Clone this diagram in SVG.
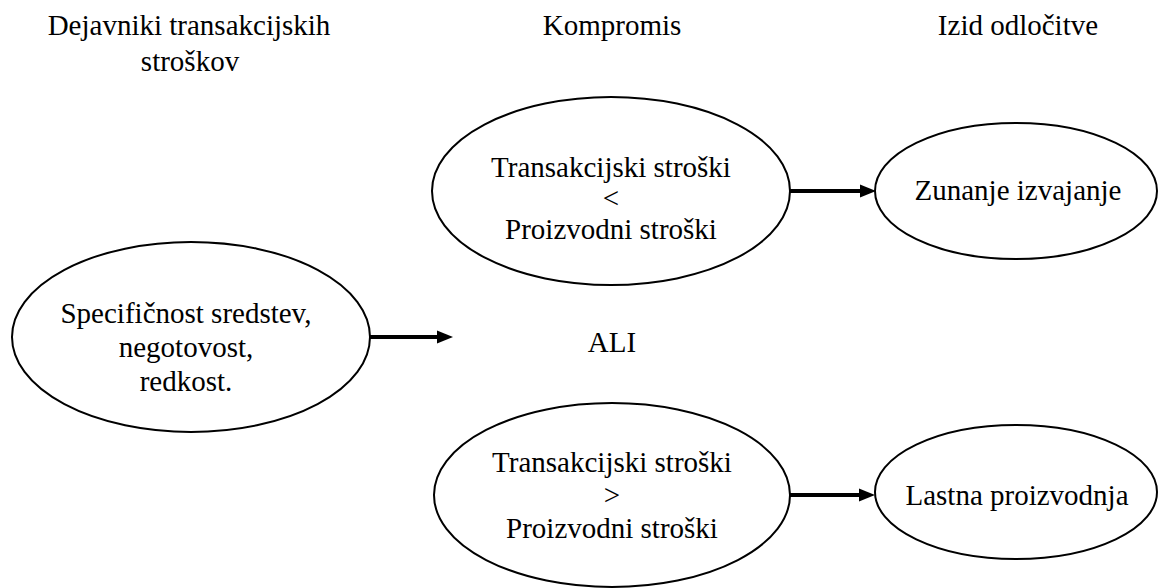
<svg xmlns="http://www.w3.org/2000/svg" width="1158" height="588" viewBox="0 0 1158 588">
  <defs>
    <marker id="arrow" markerUnits="userSpaceOnUse" markerWidth="16" markerHeight="14" refX="4" refY="7" orient="auto">
      <path d="M0,0.5 L16,7 L0,13.5 z" fill="#000"/>
    </marker>
  </defs>
  <rect width="1158" height="588" fill="#fff"/>

  <!-- connectors -->
  <g id="connectors" stroke="#000" stroke-width="4" fill="none" marker-end="url(#arrow)">
    <line x1="370" y1="337" x2="441" y2="337"/>
    <line x1="790" y1="191" x2="864" y2="191"/>
    <line x1="790" y1="495" x2="863" y2="495"/>
  </g>

  <!-- all labels share one serif face; ellipses share one outline -->
  <g font-family="Liberation Serif" font-size="29" text-anchor="middle" fill="#000">
    <g id="headings">
      <text x="189" y="35">Dejavniki transakcijskih</text>
      <text x="190" y="71">stroškov</text>
      <text x="612" y="35">Kompromis</text>
      <text x="1018" y="35">Izid odločitve</text>
    </g>

    <g id="factors">
      <ellipse cx="191" cy="337" rx="179" ry="95" fill="#fff" stroke="#000" stroke-width="2"/>
      <text x="186" y="323">Specifičnost sredstev,</text>
      <text x="186" y="357">negotovost,</text>
      <text x="186" y="391">redkost.</text>
    </g>

    <g id="tradeoff-less">
      <ellipse cx="611" cy="191" rx="179" ry="94" fill="#fff" stroke="#000" stroke-width="2"/>
      <text x="611" y="177">Transakcijski stroški</text>
      <text x="611" y="208">&lt;</text>
      <text x="611" y="239">Proizvodni stroški</text>
    </g>

    <g id="or-label">
      <text x="612" y="352">ALI</text>
    </g>

    <g id="tradeoff-greater">
      <ellipse cx="612" cy="495" rx="178" ry="92" fill="#fff" stroke="#000" stroke-width="2"/>
      <text x="612" y="472">Transakcijski stroški</text>
      <text x="612" y="505">&gt;</text>
      <text x="612" y="538">Proizvodni stroški</text>
    </g>

    <g id="outsourcing">
      <ellipse cx="1016" cy="191" rx="141" ry="68" fill="#fff" stroke="#000" stroke-width="2"/>
      <text x="1018" y="200">Zunanje izvajanje</text>
    </g>

    <g id="in-house">
      <ellipse cx="1016" cy="492" rx="141" ry="67" fill="#fff" stroke="#000" stroke-width="2"/>
      <text x="1017" y="505">Lastna proizvodnja</text>
    </g>
  </g>
</svg>
